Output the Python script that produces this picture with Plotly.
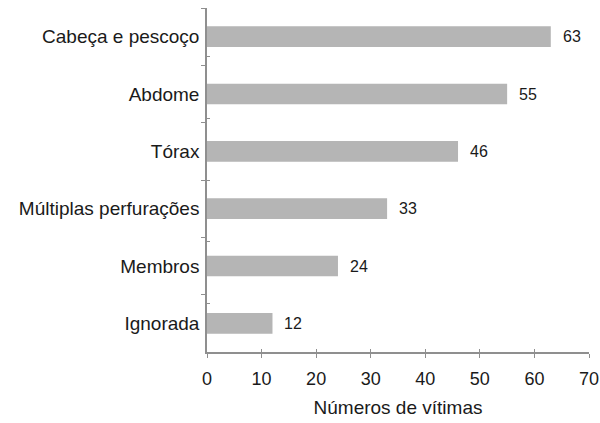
import plotly.graph_objects as go

categories = ["Cabeça e pescoço", "Abdome", "Tórax", "Múltiplas perfurações", "Membros", "Ignorada"]
values = [63, 55, 46, 33, 24, 12]
x_ticks = [0, 10, 20, 30, 40, 50, 60, 70]
x_title = "Números de vítimas"

FONT = "Liberation Sans, Arial, sans-serif"
AX = "#8f8f8f"

fig = go.Figure()
fig.add_trace(go.Bar(
    x=values, y=categories, orientation="h",
    marker=dict(color="#b5b5b5", line=dict(width=0)),
    width=0.36, hoverinfo="x+y",
))
# helper trace so the overlay axes (inner half of crossing ticks) exist
fig.add_trace(go.Scatter(x=values, y=categories, mode="none", xaxis="x2", yaxis="y2",
                         hoverinfo="skip"))
for c, v in zip(categories, values):
    fig.add_annotation(x=v, y=c, text=str(v), showarrow=False, xanchor="left",
                       xshift=10, font=dict(size=16, color="#1a1a1a", family=FONT))

fig.update_layout(
    width=600, height=423,
    margin=dict(l=207, r=11, t=8, b=71, autoexpand=False),
    paper_bgcolor="white", plot_bgcolor="white",
    showlegend=False,
    font=dict(family=FONT, color="#1a1a1a"),
    xaxis=dict(range=[0, 70], tickvals=x_ticks, ticks="outside", ticklen=4, tickcolor=AX,
               showline=True, linecolor=AX, linewidth=1.5, showgrid=False, zeroline=False,
               tickfont=dict(size=18), ticklabelstandoff=6, ticklabeloverflow="allow",
               automargin=False,
               title=dict(text=x_title, font=dict(size=19), standoff=12)),
    yaxis=dict(categoryorder="array", categoryarray=categories, autorange="reversed",
               tickson="boundaries", ticks="outside", ticklen=4, tickcolor=AX,
               showline=True, linecolor=AX, linewidth=1.5, showgrid=False,
               automargin=False, tickfont=dict(size=19), ticklabelstandoff=2),
    xaxis2=dict(overlaying="x", matches="x", range=[0, 70], tickvals=x_ticks, ticks="inside",
                ticklen=3, tickcolor=AX, showticklabels=False, showline=False,
                showgrid=False, zeroline=False, automargin=False),
    yaxis2=dict(overlaying="y", categoryorder="array", categoryarray=categories,
                autorange="reversed", tickson="boundaries", ticks="inside", ticklen=3,
                tickcolor=AX, showticklabels=False, showline=False, showgrid=False,
                automargin=False),
    bargap=0.64,
)
fig.write_html("out.html", config={"displayModeBar": False},
               post_script="document.body.style.margin='0px';document.body.style.overflow='hidden';")
